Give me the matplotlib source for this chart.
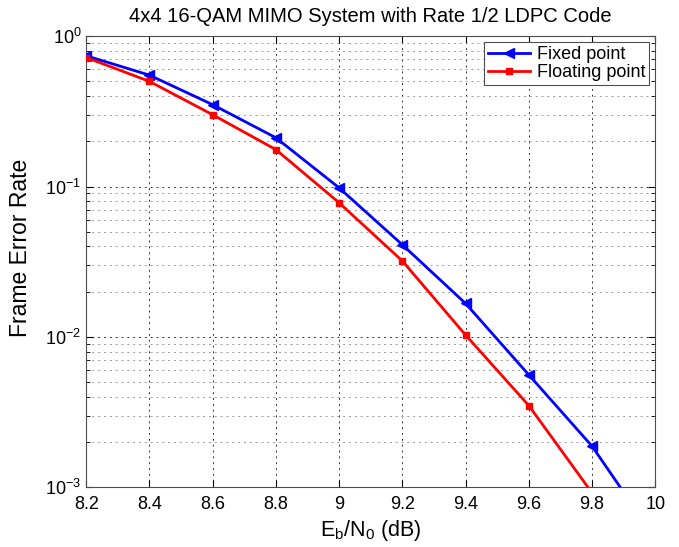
import numpy as np
import matplotlib
matplotlib.use("Agg")
import matplotlib.pyplot as plt
from matplotlib.ticker import LogLocator, NullFormatter

plt.rcParams["font.family"] = ["Liberation Sans", "DejaVu Sans"]
plt.rcParams["mathtext.fontset"] = "custom"
plt.rcParams["mathtext.rm"] = "Liberation Sans"
plt.rcParams["mathtext.it"] = "Liberation Sans"
plt.rcParams["mathtext.default"] = "regular"

ebn0_fixed = [8.2, 8.4, 8.6, 8.8, 9.0, 9.2, 9.4, 9.6, 9.8, 10.0]
fer_fixed = [0.74, 0.55, 0.35, 0.211, 0.098, 0.041, 0.0167, 0.0056, 0.00188, 0.00046]
ebn0_float = [8.2, 8.4, 8.6, 8.8, 9.0, 9.2, 9.4, 9.6, 9.8]
fer_float = [0.72, 0.50, 0.30, 0.176, 0.078, 0.032, 0.0103, 0.0035, 0.00092]
xtick_labels = ["8.2", "8.4", "8.6", "8.8", "9", "9.2", "9.4", "9.6", "9.8", "10"]

fig = plt.figure(figsize=(6.79, 5.47), dpi=100)
ax = fig.add_axes([0.127, 0.109, 0.838, 0.825])

ax.semilogy(ebn0_fixed, fer_fixed, "-<", color="blue", lw=2, ms=7,
            label="Fixed point", zorder=3)
ax.semilogy(ebn0_float, fer_float, "-s", color="red", lw=2, ms=5,
            label="Floating point", zorder=3)

ax.set_xlim(8.2, 10)
ax.set_ylim(1e-3, 1)
ax.set_xticks(np.arange(8.2, 10.01, 0.2))
ax.set_xticklabels(xtick_labels)
ax.yaxis.set_major_locator(LogLocator(base=10, numticks=10))
ax.yaxis.set_minor_locator(LogLocator(base=10, subs=np.arange(2, 10), numticks=20))
ax.yaxis.set_minor_formatter(NullFormatter())

ax.grid(True, which="major", linestyle=(0, (2, 4)), color="black", lw=0.7, alpha=0.8)
ax.grid(True, which="minor", axis="y", linestyle=(0, (2, 4)), color="0.6", lw=0.7)

ax.tick_params(which="both", direction="in", top=True, right=True, labelsize=13)
ax.tick_params(which="major", length=5)
ax.tick_params(axis="x", pad=6)
ax.tick_params(which="minor", length=3)
for s in ax.spines.values():
    s.set_color("0.3")

ax.set_title("4x4 16-QAM MIMO System with Rate 1/2 LDPC Code", fontsize=14.5, pad=10)
ax.set_xlabel(r"E$_b$/N$_0$ (dB)", fontsize=15.5, labelpad=4)
ax.set_ylabel("Frame Error Rate", fontsize=16.5)
ax.yaxis.set_label_coords(-0.095, 0.53)

leg = ax.legend(loc="upper right", fontsize=13, fancybox=False, framealpha=1,
                edgecolor="0.3", borderaxespad=0.35, handlelength=2.3,
                borderpad=0.2, labelspacing=0.05, handletextpad=0.4)
leg.get_frame().set_linewidth(0.8)

plt.savefig("out.png", dpi=100)
